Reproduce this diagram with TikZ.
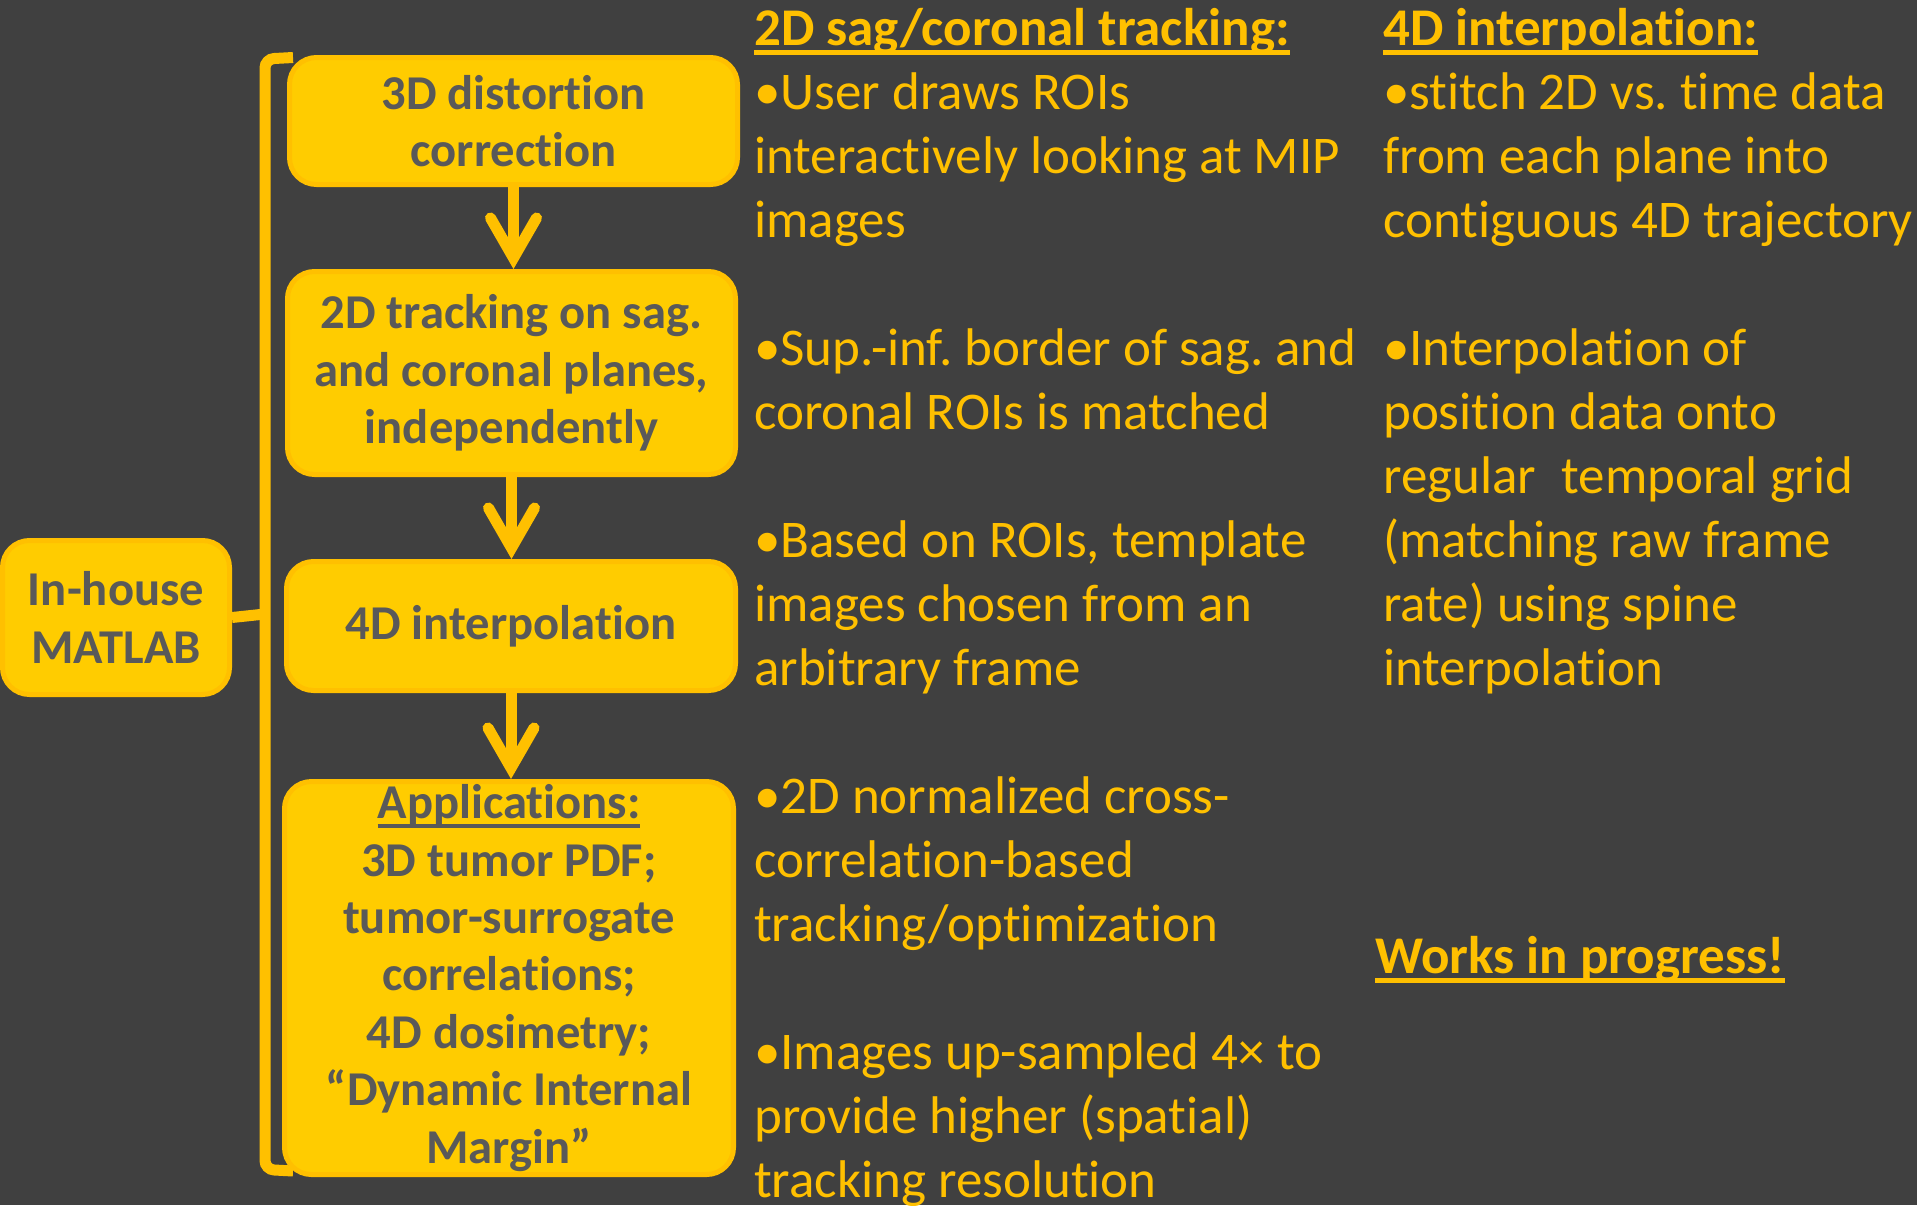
\documentclass[tikz,border=0pt]{standalone}
\usepackage{fontspec}
\setmainfont{Carlito}[Ligatures={TeX,NoCommon}]
\usetikzlibrary{arrows.meta}

\definecolor{slide}{HTML}{404040}
\definecolor{boxfill}{HTML}{FFCC00}
\definecolor{gold}{HTML}{FFC000}
\definecolor{boxtext}{HTML}{595959}

\newsavebox{\undlbox}
\newcommand{\undl}[1]{\sbox{\undlbox}{#1}\rlap{\rule[-9.5pt]{\wd\undlbox}{4.5pt}}\usebox{\undlbox}}
\newcommand{\colfont}{\fontsize{53}{64}\selectfont}
\frenchspacing

\tikzset{
  stage/.style={draw=gold, line width=5pt, fill=boxfill, rounded corners=27pt,
    text=boxtext, font=\bfseries\fontsize{48.6}{57.4}\selectfont, align=center, inner sep=0pt},
  flow/.style={draw=gold, line width=11pt,
    -{Straight Barb[length=40pt, width=46pt, line cap=round, line join=miter]}},
  bracketline/.style={draw=gold, line width=11pt, rounded corners=9pt},
  note/.style={text=gold, font=\colfont, anchor=base west, inner sep=0pt}
}

\begin{document}
\begin{tikzpicture}[x=1pt, y=-1pt]
  \fill[slide] (0,0) rectangle (1917,1205);
  \useasboundingbox (0,0) rectangle (1917,1205);

  % bracket
  \coordinate (brTop) at (293,57.5);
  \coordinate (brBot) at (293,1171);
  \draw[bracketline] (brTop) -- (265,59) -- (265,1169.5) -- (brBot);

  % pipeline boxes
  \node[stage, minimum width=227pt, minimum height=154pt] (matlab) at (116,617.5) {In-house\\MATLAB};
  \draw[bracketline] (matlab.east) -- (265,614);

  \node[stage, minimum width=448pt, minimum height=127pt] (distort) at (513.5,121) {3D distortion\\correction};
  \node[stage, minimum width=448pt, minimum height=203pt] (track) at (511.5,373) {2D tracking on sag.\\and coronal planes,\\independently};
  \node[stage, minimum width=449pt, minimum height=129pt] (interp) at (511,626) {4D interpolation};
  \node[stage, minimum width=449pt, minimum height=393pt] (apps) at (509,978)
    {\undl{Applications:}\\3D tumor PDF;\\tumor-surrogate\\correlations;\\4D dosimetry;\\“Dynamic Internal\\Margin”};

  \draw[flow] (distort.south) -- (distort.south |- track.north);
  \draw[flow] (track.south) -- (track.south |- interp.north);
  \draw[flow] (interp.south) -- (interp.south |- apps.north);

  % 2D tracking notes
  \node[note] (sagHead) at (754,45) {\bfseries\undl{2D sag/coronal tracking:}};
  \node[note] (roiDraw) at (754,109) {\parbox[t]{620pt}{\raggedright •User draws ROIs\\interactively looking at MIP\\images}};
  \node[note] (roiMatch) at (754,365) {\parbox[t]{620pt}{\raggedright •Sup.-inf. border of sag. and\\coronal ROIs is matched}};
  \node[note] (template) at (754,557) {\parbox[t]{620pt}{\raggedright •Based on ROIs, template\\images chosen from an\\arbitrary frame}};
  \node[note] (ncc) at (754,813) {\parbox[t]{620pt}{\raggedright •2D normalized cross-\\correlation-based\\tracking/optimization}};
  \node[note] (upsample) at (754,1069) {\parbox[t]{620pt}{\raggedright •Images up-sampled 4× to\\provide higher (spatial)\\tracking resolution}};

  % 4D interpolation notes
  \node[note] (interpHead) at (1383,45) {\bfseries\undl{4D interpolation:}};
  \node[note] (stitch) at (1383,109) {\parbox[t]{540pt}{\raggedright •stitch 2D vs. time data\\from each plane into\\contiguous 4D trajectory}};
  \node[note] (regrid) at (1383,365) {\parbox[t]{540pt}{\raggedright •Interpolation of\\position data onto\\regular\hspace{0.25em} temporal grid\\(matching raw frame\\rate) using spine\\interpolation}};
  \node[note] (progress) at (1375,973) {\bfseries\undl{Works in progress!}};
\end{tikzpicture}
\end{document}
